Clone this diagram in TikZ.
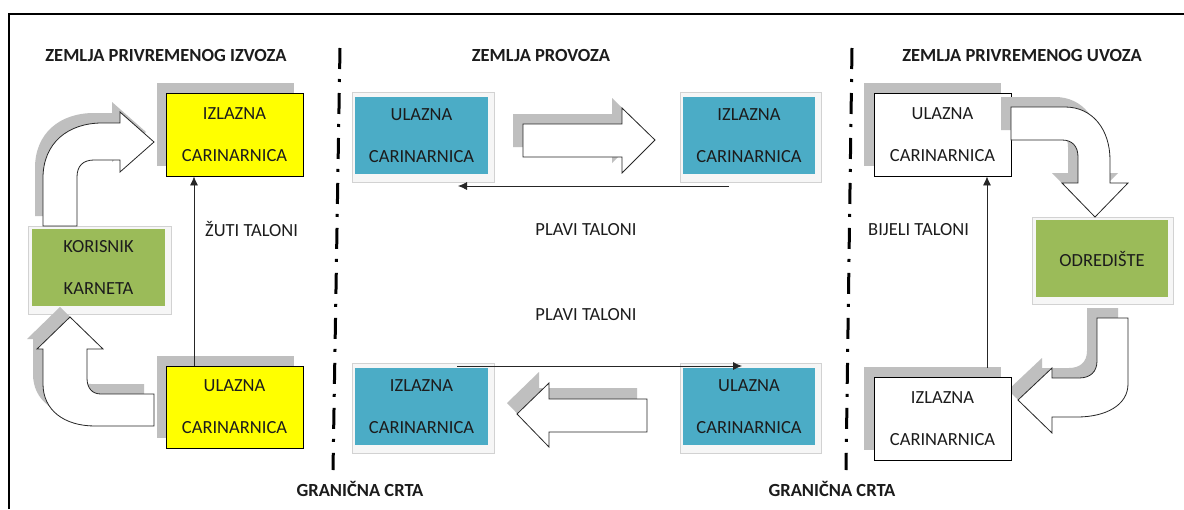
\documentclass[tikz,border=0pt]{standalone}
\usepackage{fontspec}
\setmainfont{Carlito}
\usetikzlibrary{arrows.meta,calc}
\definecolor{ylw}{HTML}{FFFF00}
\definecolor{grn}{HTML}{9BBB59}
\definecolor{blu}{HTML}{4BACC6}
\definecolor{shd}{HTML}{BFBFBF}
\definecolor{txt}{HTML}{1C1C1C}
\newcommand\arrTL{(43,226) -- (43,178) .. controls (43,143) and (68,123) .. (102,123) -- (120,123) -- (120,112) -- (154,142) -- (120,172) -- (120,160) -- (94,160) .. controls (83,160) and (77,166) .. (77,177) -- (77,226) -- cycle}
\newcommand\arrBL{(154,394) -- (101,394) .. controls (92,394) and (87,388) .. (87,378) -- (87,349) -- (103,349) -- (70,317) -- (37,349) -- (43,349) -- (43,384) .. controls (43,410) and (64,426) .. (95,426) -- (154,426) -- cycle}
\newcommand\arrTM{(523,124) -- (622,124) -- (622,108) -- (655,140) -- (622,173) -- (622,157) -- (523,157) -- cycle}
\newcommand\arrBM{(647,399) -- (549,399) -- (549,383) -- (517,414) -- (549,447) -- (549,432) -- (647,432) -- cycle}
\newcommand\arrTR{(1011,107) -- (1065,107) .. controls (1093,107) and (1110,130) .. (1110,160) -- (1110,183) -- (1128,183) -- (1095,217) -- (1062,183) -- (1078,183) -- (1078,157) .. controls (1078,146) and (1072,140) .. (1062,140) -- (1011,140) -- cycle}
\newcommand\arrBR{(1097,318) -- (1128,318) -- (1128,384) .. controls (1128,405) and (1106,417) .. (1077,417) -- (1052,417) -- (1052,433) -- (1018,400) -- (1052,368) -- (1052,378) -- (1079,378) .. controls (1090,378) and (1097,372) .. (1097,361) -- cycle}
\begin{document}
\begin{tikzpicture}[x=1pt,y=-1pt,
  every node/.style={font=\fontsize{18.5}{42}\selectfont, text=txt, inner sep=0pt},
  box/.style={draw=black, line width=0.9pt, minimum width=137pt, minimum height=83pt, align=center},
  softbox/.style={minimum width=133pt, minimum height=77pt, align=center},
  glow/.style={fill=gray!7, draw=gray!35, line width=0.6pt},
  head/.style={font=\bfseries\fontsize{18.5}{22}\selectfont},
  blockarrow/.style={fill=white, draw=black!85, line width=0.8pt, line join=miter},
  shadow/.style={fill=shd, draw=none},
  link/.style={draw=black!85, line width=0.8pt, -{Latex[length=9pt,width=8pt]}},
  border/.style={line width=3pt, dash pattern=on 21pt off 10pt on 3pt off 11pt}
]
\useasboundingbox (0,0) rectangle (1184,509);
\fill[white] (0,0) rectangle (1184,509);
% frame
\draw[line width=2.5pt] (9,509) -- (9,14) -- (1184,14);
% border lines
\draw[border] (340,48) -- (333,470);
\draw[border] (852,48) -- (846,470);
% headings
\node[head] (h1) at (166,55) {ZEMLJA PRIVREMENOG IZVOZA};
\node[head] (h2) at (541,55) {ZEMLJA PROVOZA};
\node[head] (h3) at (1022,55) {ZEMLJA PRIVREMENOG UVOZA};
\node[head] (g1) at (360,489) {GRANIČNA CRTA};
\node[head] (g2) at (832,489) {GRANIČNA CRTA};

% ---- left country
\fill[shd] (157,83) rectangle (294,166);
\node[box, fill=ylw] (yT) at (234.5,134.5) {IZLAZNA\\CARINARNICA};
\fill[shd] (157,356) rectangle (294,438);
\node[box, fill=ylw, minimum height=82pt] (yB) at (234.5,407) {ULAZNA\\CARINARNICA};
\draw[glow] (28,226) rectangle (171,314);
\node[softbox, fill=grn] (kor) at (98.5,267.5) {KORISNIK\\KARNETA};
\fill[shd, shift={(-8,-10)}] \arrTL;
\draw[blockarrow] \arrTL;
\fill[shd, shift={(-10,-10)}] \arrBL;
\draw[blockarrow] \arrBL;
\coordinate (cl) at (194,0);
\draw[link] (cl |- yB.north) -- (cl |- yT.south);
\node[anchor=west] (zt) at (205,229) {ŽUTI TALONI};

% ---- transit country
\draw[glow] (352,92) rectangle (494,182);
\node[softbox, fill=blu] (b1) at (421.5,135.5) {ULAZNA\\CARINARNICA};
\draw[glow] (680,92) rectangle (821,182);
\node[softbox, fill=blu, minimum width=132pt] (b2) at (749,135.5) {IZLAZNA\\CARINARNICA};
\draw[glow] (352,363) rectangle (494,453);
\node[softbox, fill=blu] (b3) at (421.5,406.5) {IZLAZNA\\CARINARNICA};
\draw[glow] (680,363) rectangle (821,453);
\node[softbox, fill=blu, minimum width=132pt] (b4) at (749,406.5) {ULAZNA\\CARINARNICA};
\fill[shd, shift={(-10,-10)}] \arrTM;
\draw[blockarrow] \arrTM;
\fill[shd, shift={(-10,-11)}] \arrBM;
\draw[blockarrow] \arrBM;
\coordinate (p1) at (729,186);
\coordinate (p2) at (458,186);
\draw[link] (p1) -- (p2);
\coordinate (q1) at (457,366);
\coordinate (q2) at (742,366);
\draw[link] (q1) -- (q2);
\node (pt1) at (586,230) {PLAVI TALONI};
\node (pt2) at (586,315) {PLAVI TALONI};

% ---- import country
\fill[shd, shift={(-10,-10)}] \arrBR;
\fill[shd] (864,83) rectangle (1001,166);
\node[box, fill=white] (wT) at (942.5,134.5) {ULAZNA\\CARINARNICA};
\fill[shd] (864,367) rectangle (1001,450);
\node[box, fill=white] (wB) at (942.5,418.5) {IZLAZNA\\CARINARNICA};
\draw[glow] (1032,217) rectangle (1173,304);
\node[softbox, fill=grn, minimum width=132pt] (odr) at (1102,258.5) {ODREDIŠTE};
\fill[shd, shift={(-10,-10)}] \arrTR;
\draw[blockarrow] \arrTR;
\draw[blockarrow] \arrBR;
\coordinate (cr) at (987,0);
\draw[link] ($(cr |- wB.north)+(0,-9)$) -- (cr |- wT.south);
\node[anchor=west] (bt) at (868,230) {BIJELI TALONI};
\end{tikzpicture}
\end{document}
